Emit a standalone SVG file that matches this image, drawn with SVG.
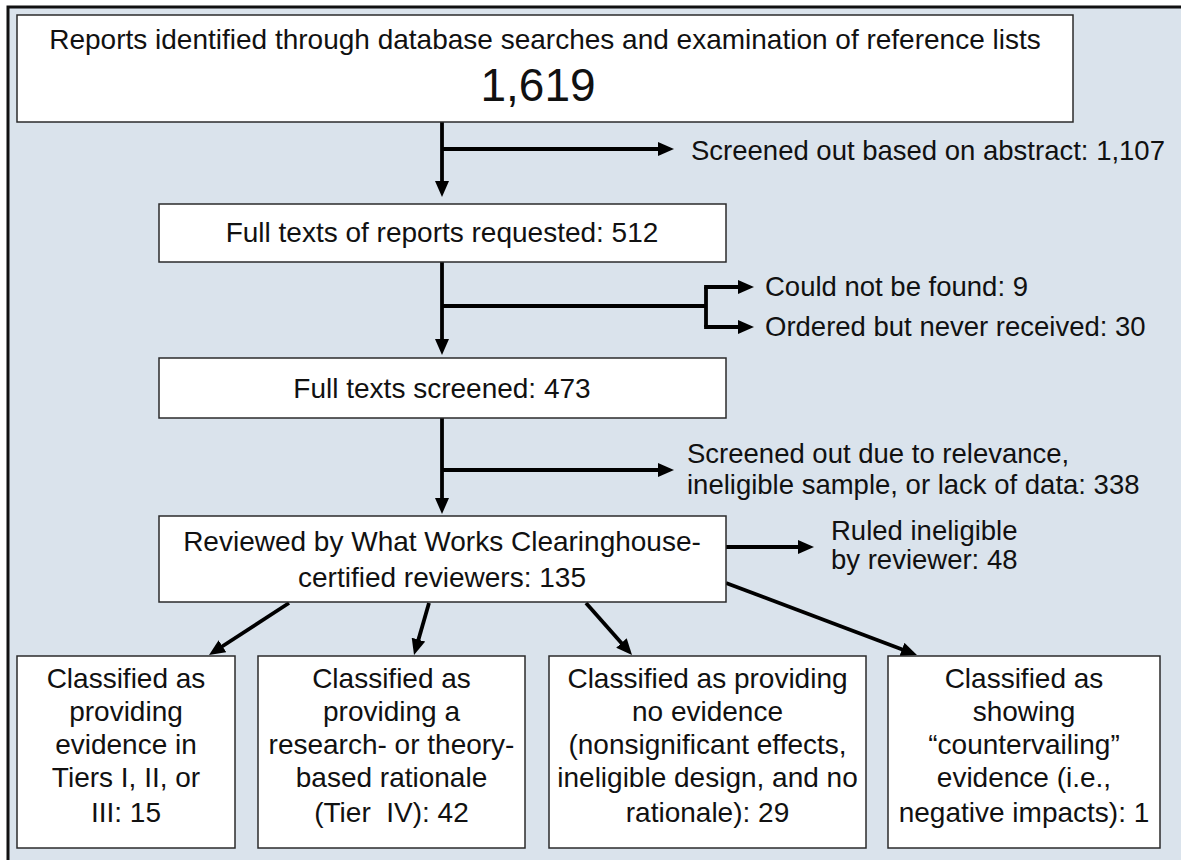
<svg xmlns="http://www.w3.org/2000/svg" width="1181" height="860" viewBox="0 0 1181 860">
<style>
.box{fill:#ffffff;stroke:#2b2b2b;stroke-width:1.5}
.t{font-family:"Liberation Sans",Arial,sans-serif;font-size:28px;fill:#111;text-anchor:middle}
.l{font-family:"Liberation Sans",Arial,sans-serif;font-size:27.5px;fill:#111}
.c{fill:none;stroke:#000;stroke-width:3.8}
.a{marker-end:url(#ah)}
</style>
<defs>
<marker id="ah" markerUnits="userSpaceOnUse" markerWidth="16" markerHeight="14" refX="6" refY="7" orient="auto">
<path d="M0,0 L16,7 L0,14 z" fill="#000"/>
</marker>
</defs>
<rect x="0" y="0" width="1181" height="860" fill="#ffffff"/>
<rect x="8" y="7" width="1200" height="900" fill="#DAE3EC" stroke="#111" stroke-width="3"/>

<g id="connectors">
<path class="c a" d="M442,122 V187"/>
<path class="c a" d="M442,149 H664"/>
<path class="c a" d="M442,262 V345"/>
<path class="c" d="M442,306 H706 M706,287 V327"/>
<path class="c a" d="M704.1,287 H744"/>
<path class="c a" d="M704.1,327 H744"/>
<path class="c a" d="M442,418 V504"/>
<path class="c a" d="M442,470 H664"/>
<path class="c a" d="M726,547 H804"/>
<path class="c a" d="M289,603 L217.4,649.5"/>
<path class="c a" d="M429,603 L416.8,645.4"/>
<path class="c a" d="M586,603 L625.4,647.5"/>
<path class="c a" d="M726,583 L907.6,651.5"/>
</g>

<g id="n_identified">
<rect class="box" x="17" y="15" width="1056" height="107"/>
<text class="t" x="545" y="49">Reports identified through database searches and examination of reference lists</text>
<text class="t" x="538" y="101" style="font-size:46px">1,619</text>
</g>
<g id="l_abstract"><text class="l" x="691" y="160">Screened out based on abstract: 1,107</text></g>

<g id="n_requested">
<rect class="box" x="159" y="204" width="567" height="58"/>
<text class="t" x="442" y="242">Full texts of reports requested: 512</text>
</g>
<g id="l_notfound"><text class="l" x="765" y="296">Could not be found: 9</text></g>
<g id="l_never"><text class="l" x="765" y="336">Ordered but never received: 30</text></g>

<g id="n_screened">
<rect class="box" x="159" y="358" width="567" height="60"/>
<text class="t" x="442" y="398">Full texts screened: 473</text>
</g>
<g id="l_relevance"><text class="l" x="687" y="463">Screened out due to relevance,</text><text class="l" x="687" y="494">ineligible sample, or lack of data: 338</text></g>

<g id="n_reviewed">
<rect class="box" x="159" y="516" width="567" height="86"/>
<text class="t" x="442" y="551">Reviewed by What Works Clearinghouse-</text>
<text class="t" x="442" y="587">certified reviewers: 135</text>
</g>
<g id="l_ruled"><text class="l" x="831" y="540">Ruled ineligible</text><text class="l" x="831" y="569">by reviewer: 48</text></g>

<g id="n_tier123">
<rect class="box" x="17" y="656" width="218" height="192"/>
<text class="t" x="126" y="688">Classified as</text>
<text class="t" x="126" y="721">providing</text>
<text class="t" x="126" y="754">evidence in</text>
<text class="t" x="126" y="787">Tiers I, II, or</text>
<text class="t" x="126" y="822">III: 15</text>
</g>
<g id="n_tier4">
<rect class="box" x="258" y="656" width="267" height="192"/>
<text class="t" x="391.5" y="688">Classified as</text>
<text class="t" x="391.5" y="721">providing a</text>
<text class="t" x="391.5" y="754">research- or theory-</text>
<text class="t" x="391.5" y="787">based rationale</text>
<text class="t" x="391.5" y="822">(Tier&#160; IV): 42</text>
</g>
<g id="n_noevidence">
<rect class="box" x="549" y="656" width="317" height="192"/>
<text class="t" x="707.5" y="688">Classified as providing</text>
<text class="t" x="707.5" y="721">no evidence</text>
<text class="t" x="707.5" y="754">(nonsignificant effects,</text>
<text class="t" x="707.5" y="787">ineligible design, and no</text>
<text class="t" x="707.5" y="822">rationale): 29</text>
</g>
<g id="n_countervailing">
<rect class="box" x="888" y="656" width="272" height="192"/>
<text class="t" x="1024" y="688">Classified as</text>
<text class="t" x="1024" y="721">showing</text>
<text class="t" x="1024" y="754">“countervailing”</text>
<text class="t" x="1024" y="787">evidence (i.e.,</text>
<text class="t" x="1024" y="822">negative impacts): 1</text>
</g>
</svg>
